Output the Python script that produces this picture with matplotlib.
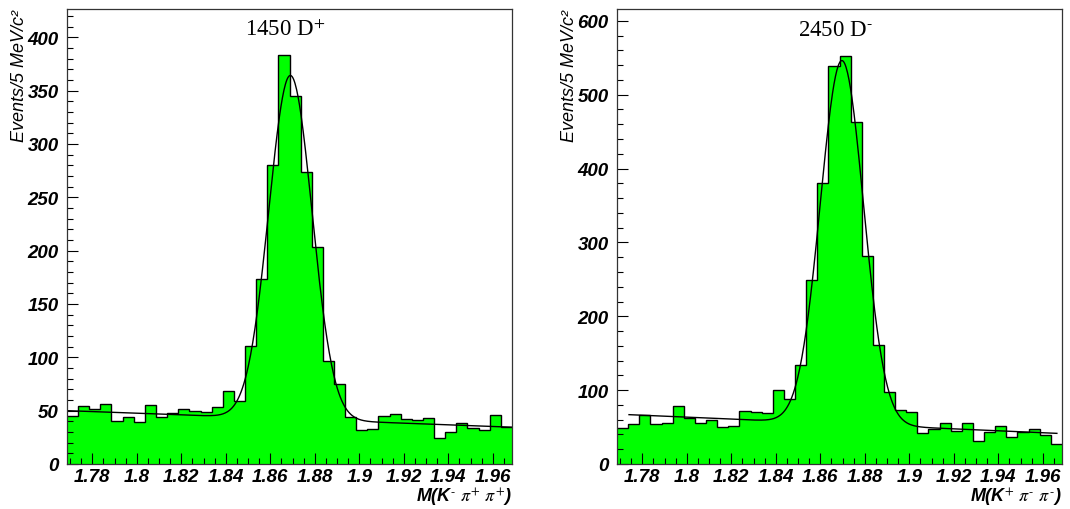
import numpy as np
import matplotlib.pyplot as plt
from matplotlib.ticker import MultipleLocator

plt.rcParams['mathtext.fontset'] = 'stix'

# binning: 40 bins of 5 MeV
x_low = 1.7686
bin_width = 0.005
n_bins = 40

# D+ counts per bin
counts_dplus = [45, 54, 52, 56, 40, 44, 39, 55, 44, 48,
                52, 50, 49, 53, 68, 59, 111, 173, 280, 383,
                345, 274, 203, 97, 75, 44, 32, 33, 45, 47,
                42, 41, 43, 24, 30, 38, 34, 32, 46, 35]

# D- counts per bin
counts_dminus = [49, 54, 67, 54, 56, 79, 62, 56, 60, 50,
                 52, 72, 70, 69, 100, 88, 134, 249, 380, 539,
                 553, 463, 282, 161, 98, 73, 70, 42, 48, 56,
                 45, 56, 31, 43, 51, 36, 44, 48, 39, 27]

# fit results: gaussian on top of a straight line
fit_dplus = dict(amp=322., mean=1.8690, sigma=0.0097, bg0=50.0, slope=-77.5, xa=1.7686, xb=1.9686)
fit_dminus = dict(amp=492., mean=1.8697, sigma=0.0097, bg0=66.8, slope=-131.6, xa=1.774, xb=1.9663)

titles = [r'1450 D$^{\text{+}}$', r'2450 D$^{\text{-}}$']
xlabels = [r'M(K$^{\text{-}}$ $\pi^{\text{+}}$ $\pi^{\text{+}}$)',
           r'M(K$^{\text{+}}$ $\pi^{\text{-}}$ $\pi^{\text{-}}$)']
ylims = [426.5, 616]
ymajor = [50, 100]
yminor = [10, 20]


def fit_curve(p, x):
    bg = p['bg0'] + p['slope'] * (x - p['xa'])
    return bg + p['amp'] * np.exp(-0.5 * ((x - p['mean']) / p['sigma']) ** 2)


fig = plt.figure(figsize=(10.7, 5.1), dpi=100)
lefts = [67 / 1070, 617 / 1070]
edges = x_low + bin_width * np.arange(n_bins + 1)

tick_font = dict(family='Liberation Sans', weight='bold', style='italic', size=13.5)

for i, (counts, fit) in enumerate([(counts_dplus, fit_dplus), (counts_dminus, fit_dminus)]):
    ax = fig.add_axes([lefts[i], 45 / 510, 445 / 1070, 455 / 510])
    ax.stairs(counts, edges, fill=True, color='#00ff00', baseline=0)
    ax.stairs(counts, edges, color='black', lw=1.0, baseline=None)

    xf = np.linspace(fit['xa'], fit['xb'], 600)
    ax.plot(xf, fit_curve(fit, xf), color='black', lw=1.0)

    ax.set_xlim(edges[0], edges[-1])
    ax.set_ylim(0, ylims[i])

    ax.xaxis.set_major_locator(MultipleLocator(0.02))
    ax.xaxis.set_minor_locator(MultipleLocator(0.005))
    ax.yaxis.set_major_locator(MultipleLocator(ymajor[i]))
    ax.yaxis.set_minor_locator(MultipleLocator(yminor[i]))
    ax.tick_params(which='both', direction='in', top=False, right=False, width=0.8)
    ax.tick_params(which='major', length=8, pad=6)
    ax.tick_params(axis='x', which='major', pad=3)
    ax.tick_params(which='minor', length=4)
    ax.xaxis.set_major_formatter(plt.FuncFormatter(lambda v, pos: ('%.2f' % v).rstrip('0').rstrip('.')))
    for lab in ax.get_xticklabels() + ax.get_yticklabels():
        lab.set_fontproperties(tick_font)
    for sp in ax.spines.values():
        sp.set_linewidth(0.9)
        sp.set_color('#333333')

    ax.text(0.49, 0.955, titles[i], transform=ax.transAxes, ha='center', va='center',
            family='Liberation Serif', size=16.5)
    ax.text(1.0, -0.073, xlabels[i], transform=ax.transAxes, ha='right', va='center',
            family='Liberation Sans', weight='bold', style='italic', size=13)
    fig.text(lefts[i] - 48 / 1070, 1 - 10 / 510, 'Events/5 MeV/c²', rotation=90,
             ha='center', va='top', family='Liberation Sans', style='italic', size=13)

fig.savefig('out.png', dpi=100)
